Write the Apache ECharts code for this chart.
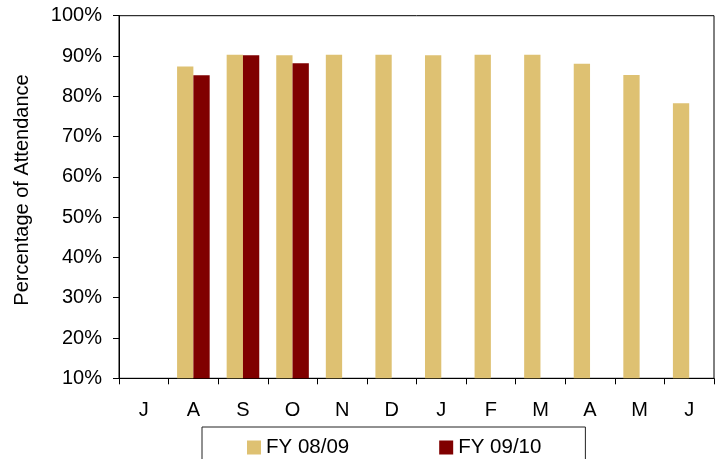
<!DOCTYPE html>
<html>
<head>
<meta charset="utf-8">
<script src="https://cdn.jsdelivr.net/npm/echarts@6/dist/echarts.min.js"></script>
<style>html,body{margin:0;padding:0;background:#fff;}#c{width:720px;height:459px;}</style>
</head>
<body>
<div id="c"></div>
<script>
var months = ['J','A','S','O','N','D','J','F','M','A','M','J'];
var fy0809 = [null, 87.4, 90.3, 90.2, 90.3, 90.3, 90.2, 90.3, 90.3, 88.1, 85.3, 78.3];
var fy0910 = [null, 85.2, 90.2, 88.2, null, null, null, null, null, null, null, null];
var seriesNames = ['FY 08/09', 'FY 09/10'];
var FONT = '"Liberation Sans", Arial, sans-serif';

var chart = echarts.init(document.getElementById('c'), null, {renderer: 'canvas'});
chart.setOption({
  animation: false,
  backgroundColor: '#fff',
  textStyle: {fontFamily: FONT, color: '#000'},
  grid: {left: 119, right: 6, top: 15.7, bottom: 80.7, containLabel: false, outerBoundsMode: 'none',
         show: true, borderColor: '#000', borderWidth: 1, backgroundColor: 'transparent'},
  legend: {
    left: 202, top: 427,
    padding: [10, 44, 40, 45],
    borderColor: '#222', borderWidth: 1,
    itemWidth: 14, itemHeight: 14, itemGap: 90,
    icon: 'rect',
    textStyle: {fontFamily: FONT, fontSize: 20.5, color: '#000'},
    data: seriesNames
  },
  xAxis: {
    type: 'category',
    data: months,
    boundaryGap: true,
    axisLine: {lineStyle: {color: '#000', width: 1}},
    axisTick: {show: true, alignWithLabel: false, length: 6, lineStyle: {color: '#000'}},
    axisLabel: {color: '#000', fontSize: 20, fontFamily: FONT, margin: 22, interval: 0},
    splitLine: {show: false}
  },
  yAxis: {
    type: 'value',
    min: 10, max: 100, interval: 10,
    name: 'Percentage of Attendance',
    nameLocation: 'middle',
    nameGap: 87,
    nameTextStyle: {fontSize: 20, fontFamily: FONT, color: '#000', padding: [0, 0, 0, 14]},
    axisLine: {show: true, lineStyle: {color: '#000', width: 1}},
    axisTick: {show: true, length: 6, lineStyle: {color: '#000'}},
    axisLabel: {formatter: '{value}%', color: '#000', fontSize: 20, fontFamily: FONT, margin: 17},
    splitLine: {show: false}
  },
  series: [
    {name: seriesNames[0], type: 'bar', data: fy0809, barWidth: 16.3, barGap: '0%', itemStyle: {color: '#DEC172'}},
    {name: seriesNames[1], type: 'bar', data: fy0910, barWidth: 16.3, barGap: '0%', itemStyle: {color: '#800000'}}
  ]
});
</script>
</body>
</html>
